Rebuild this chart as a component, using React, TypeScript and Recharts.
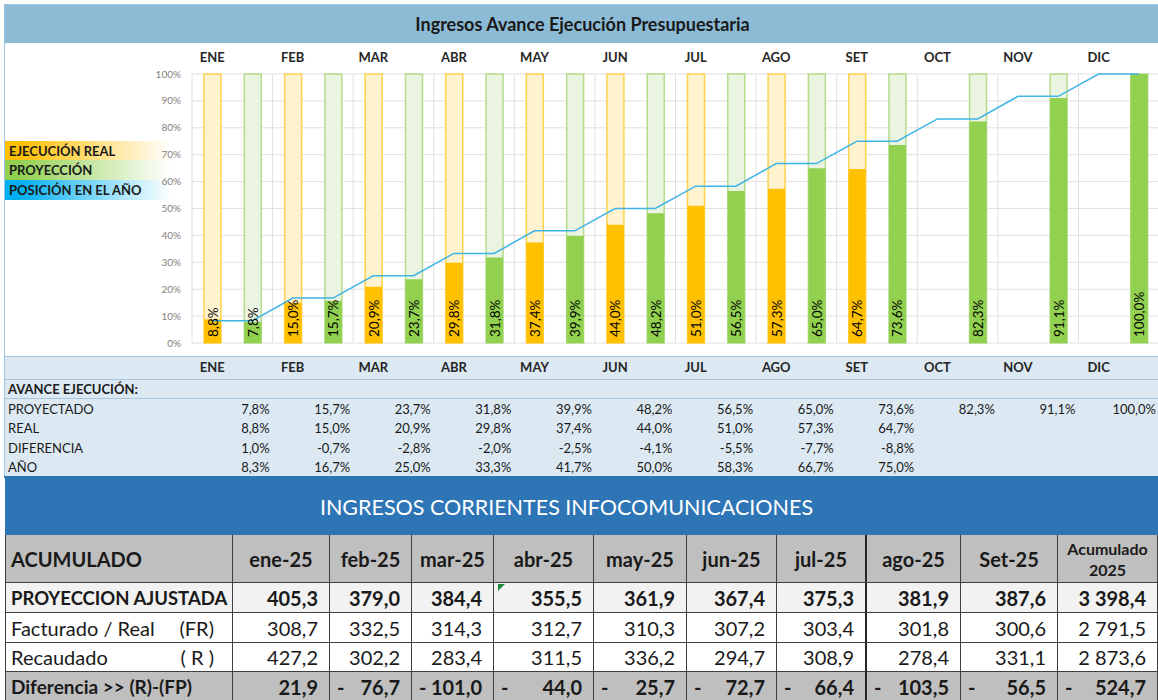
import React from 'react';
import {
  ComposedChart,
  Bar,
  Line,
  XAxis,
  YAxis,
  CartesianGrid,
  Cell,
  LabelList,
} from 'recharts';

// avance de ejecución (porcentaje acumulado)
const MONTHS = ['ENE', 'FEB', 'MAR', 'ABR', 'MAY', 'JUN', 'JUL', 'AGO', 'SET', 'OCT', 'NOV', 'DIC'];
const PROYECTADO = [7.8, 15.7, 23.7, 31.8, 39.9, 48.2, 56.5, 65.0, 73.6, 82.3, 91.1, 100.0];
const REAL: (number | null)[] = [8.8, 15.0, 20.9, 29.8, 37.4, 44.0, 51.0, 57.3, 64.7, null, null, null];
const DIFERENCIA: (number | null)[] = [1.0, -0.7, -2.8, -2.0, -2.5, -4.1, -5.5, -7.7, -8.8, null, null, null];
const ANIO: (number | null)[] = [8.3, 16.7, 25.0, 33.3, 41.7, 50.0, 58.3, 66.7, 75.0, null, null, null];
const POSICION = [8.3, 16.7, 25.0, 33.3, 41.7, 50.0, 58.3, 66.7, 75.0, 83.3, 91.7, 100.0];
const Y_TICKS = [0, 10, 20, 30, 40, 50, 60, 70, 80, 90, 100];

// tabla de ingresos corrientes (millones)
const COLUMNAS = ['ene-25', 'feb-25', 'mar-25', 'abr-25', 'may-25', 'jun-25', 'jul-25', 'ago-25', 'Set-25'];
const PROY_AJUSTADA = [405.3, 379.0, 384.4, 355.5, 361.9, 367.4, 375.3, 381.9, 387.6];
const FACTURADO = [308.7, 332.5, 314.3, 312.7, 310.3, 307.2, 303.4, 301.8, 300.6];
const RECAUDADO = [427.2, 302.2, 283.4, 311.5, 336.2, 294.7, 308.9, 278.4, 331.1];
const DIF_RECAUDO = [21.9, -76.7, -101.0, -44.0, -25.7, -72.7, -66.4, -103.5, -56.5];
const TOTALES = [3398.4, 2791.5, 2873.6, -524.7];

const FONT = "Lato, 'Liberation Sans', Arial, sans-serif";
const ORANGE = '#FFC000';
const GREEN = '#92D050';

const PLOT_LEFT = 192;
const PLOT_RIGHT = 1159;
const BAND = (PLOT_RIGHT - PLOT_LEFT) / 12;

const chartData = MONTHS.flatMap((m, i) => [
  { slot: `${m}-r`, kind: 'r', fondo: REAL[i] != null ? 100 : null, valor: REAL[i], pos: POSICION[i] },
  { slot: `${m}-p`, kind: 'p', fondo: 100, valor: PROYECTADO[i], pos: POSICION[i] },
]);

const pct = (v: number) => `${v.toFixed(1).replace('.', ',')}%`;

const num = (v: number) => {
  const [ent, dec] = Math.abs(v).toFixed(1).split('.');
  return `${ent.replace(/\B(?=(\d{3})+(?!\d))/g, ' ')},${dec}`;
};

const monthTick = (v: string) => (v.endsWith('-r') ? v.slice(0, -2) : '');

const renderBarLabel = (props: any) => {
  const { x, y, width, height, value } = props;
  if (value == null) return null;
  const cx = Number(x) + Number(width) / 2;
  const by = Number(y) + Number(height) - 6;
  return (
    <text
      x={cx}
      y={by}
      transform={`rotate(-90 ${cx} ${by})`}
      textAnchor="start"
      dominantBaseline="central"
      fontSize={13.5}
      fontFamily={FONT}
      fill="#000"
    >
      {pct(Number(value))}
    </text>
  );
};

const verticalLines = ({ offset }: any) => {
  if (!offset) return [];
  return Array.from({ length: 13 }, (_, i) => offset.left + (i * offset.width) / 12);
};

const LEYENDA = [
  { label: 'EJECUCIÓN REAL', color: ORANGE, top: 141 },
  { label: 'PROYECCIÓN', color: GREEN, top: 160 },
  { label: 'POSICIÓN EN EL AÑO', color: '#00B0F0', top: 180 },
];

const FILAS_AVANCE = [
  { label: 'PROYECTADO', values: PROYECTADO as (number | null)[] },
  { label: 'REAL', values: REAL },
  { label: 'DIFERENCIA', values: DIFERENCIA },
  { label: 'AÑO', values: ANIO },
];

// bordes de columnas y filas de la tabla inferior
const COL_X = [5, 233, 330, 412, 494, 594, 687, 777, 867, 961, 1058, 1158];
const ROW_Y = [535, 583, 613, 643, 672, 702];

const FILAS_TABLA = [
  { label: 'PROYECCION AJUSTADA', tag: '', values: PROY_AJUSTADA, total: TOTALES[0], bold: true, bg: '#F2F2F2' },
  { label: 'Facturado / Real', tag: '(FR)', values: FACTURADO, total: TOTALES[1], bold: false, bg: '#FFFFFF' },
  { label: 'Recaudado', tag: '( R )', values: RECAUDADO, total: TOTALES[2], bold: false, bg: '#FFFFFF' },
  { label: 'Diferencia >> (R)-(FP)', tag: '', values: DIF_RECAUDO, total: TOTALES[3], bold: true, bg: '#BFBFBF' },
];

const abs = (s: React.CSSProperties): React.CSSProperties => ({ position: 'absolute', boxSizing: 'border-box', ...s });

const Tabla: React.FC = () => {
  const cells: React.ReactNode[] = [];
  const border = '1px solid #3F3F3F';
  const colBorder = (c: number) => (c === 8 ? '2px solid #262626' : border);
  // encabezado
  const headers = ['ACUMULADO', ...COLUMNAS, 'Acumulado 2025'];
  headers.forEach((h, c) => {
    cells.push(
      <div
        key={`h${c}`}
        style={abs({
          left: COL_X[c],
          top: ROW_Y[0],
          width: COL_X[c + 1] - COL_X[c],
          height: ROW_Y[1] - ROW_Y[0],
          background: '#BFBFBF',
          borderRight: colBorder(c + 1),
          borderBottom: border,
          borderLeft: c === 0 ? border : undefined,
          display: 'flex',
          alignItems: 'center',
          justifyContent: c === 0 ? 'flex-start' : 'center',
          paddingLeft: c === 0 ? 5 : 0,
          fontWeight: 700,
          fontSize: c === 10 ? 16 : 20,
          lineHeight: c === 10 ? '21px' : undefined,
          textAlign: 'center',
          color: '#1a1a1a',
        })}
      >
        {c === 10 ? (
          <span>
            Acumulado
            <br />
            2025
          </span>
        ) : (
          h
        )}
      </div>
    );
  });
  FILAS_TABLA.forEach((f, r) => {
    const top = ROW_Y[r + 1];
    const height = ROW_Y[r + 2] - top;
    const vals = [...f.values, f.total];
    cells.push(
      <div
        key={`l${r}`}
        style={abs({
          left: COL_X[0],
          top,
          width: COL_X[1] - COL_X[0],
          height,
          background: f.bg,
          borderRight: border,
          borderBottom: border,
          borderLeft: border,
          display: 'flex',
          alignItems: 'center',
          justifyContent: 'space-between',
          paddingLeft: 5,
          paddingRight: 18,
          fontWeight: f.bold ? 700 : 400,
          fontSize: f.bold ? (r === 0 ? 18.5 : 19) : 20,
          whiteSpace: 'nowrap',
          color: '#1a1a1a',
        })}
      >
        <span>{f.label}</span>
        {f.tag && <span>{f.tag}</span>}
      </div>
    );
    vals.forEach((v, c) => {
      cells.push(
        <div
          key={`v${r}-${c}`}
          style={abs({
            left: COL_X[c + 1],
            top,
            width: COL_X[c + 2] - COL_X[c + 1],
            height,
            background: f.bg,
            borderRight: colBorder(c + 2),
            borderBottom: border,
            display: 'flex',
            alignItems: 'center',
            justifyContent: 'space-between',
            paddingLeft: 7,
            paddingRight: 11,
            fontWeight: f.bold ? 700 : 400,
            fontSize: 20,
            color: '#1a1a1a',
          })}
        >
          <span>{v < 0 ? '-' : ''}</span>
          <span>{num(v)}</span>
        </div>
      );
    });
  });
  return (
    <>
      {cells}
      <div
        style={abs({
          left: COL_X[4] + 4,
          top: ROW_Y[1] + 1,
          width: 0,
          height: 0,
          borderTop: '7px solid #1E8E3E',
          borderRight: '7px solid transparent',
        })}
      />
    </>
  );
};

const App: React.FC = () => {
  return (
    <div style={abs({ left: 0, top: 0, width: 1158, height: 700, fontFamily: FONT, background: '#fff', overflow: 'hidden' })}>
      {/* marco de la sección superior */}
      <div style={abs({ left: 4, top: 4, width: 1156, height: 474, border: '1px solid #9DC3E6', borderBottom: 'none' })} />
      <div
        style={abs({
          left: 5,
          top: 5,
          width: 1155,
          height: 38,
          background: '#8CBBD6',
          display: 'flex',
          alignItems: 'center',
          justifyContent: 'center',
          fontWeight: 700,
          fontSize: 18,
          color: '#1a1a1a',
        })}
      >
        Ingresos Avance Ejecución Presupuestaria
      </div>
      <div style={abs({ left: 5, top: 357, width: 1155, height: 120, background: '#DCE9F3' })} />
      <div style={abs({ left: 5, top: 356, width: 1155, height: 1, background: '#9DC3E6' })} />
      <div style={abs({ left: 5, top: 379, width: 1155, height: 1, background: '#A9C8E0' })} />
      <div style={abs({ left: 5, top: 398, width: 1155, height: 1, background: '#A9C8E0' })} />
      <div style={abs({ left: 4, top: 476, width: 1156, height: 2, background: '#2E75B6' })} />

      {/* leyenda */}
      {LEYENDA.map((l) => (
        <div
          key={l.label}
          style={abs({
            left: 5,
            top: l.top,
            width: 166,
            height: 20,
            background: `linear-gradient(to right, ${l.color} 0%, ${l.color} 8%, #ffffff 100%)`,
            display: 'flex',
            alignItems: 'center',
            paddingLeft: 4,
            fontWeight: 700,
            fontSize: 13,
            color: '#1a1a1a',
            whiteSpace: 'nowrap',
          })}
        >
          {l.label}
        </div>
      ))}

      <div style={abs({ left: 0, top: 43 })}>
        <ComposedChart width={1160} height={336} data={chartData} margin={{ top: 0, right: 1, bottom: 0, left: 0 }}>
          <CartesianGrid
            xAxisId="val"
            stroke="#E0E0E0"
            verticalCoordinatesGenerator={verticalLines}
            syncWithTicks={false}
          />
          <XAxis
            xAxisId="bg"
            dataKey="slot"
            orientation="top"
            height={31}
            interval={0}
            tickFormatter={monthTick}
            axisLine={false}
            tickLine={false}
            tickSize={0}
            tickMargin={12}
            tick={{ fontSize: 13, fontWeight: 700, fill: '#262626', fontFamily: FONT }}
          />
          <XAxis
            xAxisId="val"
            dataKey="slot"
            orientation="bottom"
            height={36}
            interval={0}
            tickFormatter={monthTick}
            axisLine={false}
            tickLine={false}
            tickSize={0}
            tickMargin={20}
            tick={{ fontSize: 13, fontWeight: 700, fill: '#262626', fontFamily: FONT }}
          />
          <YAxis
            width={192}
            domain={[0, 100]}
            ticks={Y_TICKS}
            tickFormatter={(v: number) => `${v}%`}
            axisLine={false}
            tickLine={false}
            tickSize={0}
            tickMargin={11}
            tick={{ fontSize: 10, fill: '#7F7F7F', fontFamily: FONT }}
          />
          <Bar xAxisId="bg" dataKey="fondo" barSize={17} isAnimationActive={false}>
            {chartData.map((d) => (
              <Cell
                key={d.slot}
                fill={d.kind === 'r' ? '#FFF3CF' : '#EBF3E1'}
                stroke={d.kind === 'r' ? '#FFD24D' : '#B4DC8C'}
                strokeWidth={1.5}
              />
            ))}
          </Bar>
          <Bar xAxisId="val" dataKey="valor" barSize={17} isAnimationActive={false}>
            {chartData.map((d) => (
              <Cell key={d.slot} fill={d.kind === 'r' ? ORANGE : GREEN} />
            ))}
            <LabelList dataKey="valor" content={renderBarLabel} />
          </Bar>
          <Line
            xAxisId="val"
            dataKey="pos"
            stroke="#3FB4E6"
            strokeWidth={1.5}
            dot={false}
            activeDot={false}
            isAnimationActive={false}
          />
        </ComposedChart>
      </div>

      {/* tabla de avance */}
      <div style={abs({ left: 8, top: 380, height: 18, display: 'flex', alignItems: 'center', fontWeight: 700, fontSize: 13, color: '#1a1a1a' })}>
        AVANCE EJECUCIÓN:
      </div>
      {FILAS_AVANCE.map((f, r) => (
        <React.Fragment key={f.label}>
          <div
            style={abs({
              left: 8,
              top: 399 + r * 19.5,
              height: 19.5,
              display: 'flex',
              alignItems: 'center',
              fontSize: 13,
              color: '#1a1a1a',
            })}
          >
            {f.label}
          </div>
          {f.values.map((v, i) =>
            v == null ? null : (
              <div
                key={i}
                style={abs({
                  left: PLOT_LEFT + i * BAND,
                  top: 399 + r * 19.5,
                  width: BAND - 3,
                  height: 19.5,
                  display: 'flex',
                  alignItems: 'center',
                  justifyContent: 'flex-end',
                  fontSize: 13,
                  color: '#1a1a1a',
                })}
              >
                {pct(v)}
              </div>
            )
          )}
        </React.Fragment>
      ))}

      {/* ingresos corrientes */}
      <div
        style={abs({
          left: 5,
          top: 478,
          width: 1155,
          height: 57,
          background: '#2E75B6',
          display: 'flex',
          alignItems: 'center',
          justifyContent: 'center',
          paddingRight: 32,
          fontSize: 21.5,
          color: '#ffffff',
        })}
      >
        INGRESOS CORRIENTES INFOCOMUNICACIONES
      </div>
      <Tabla />
    </div>
  );
};

export default App;
